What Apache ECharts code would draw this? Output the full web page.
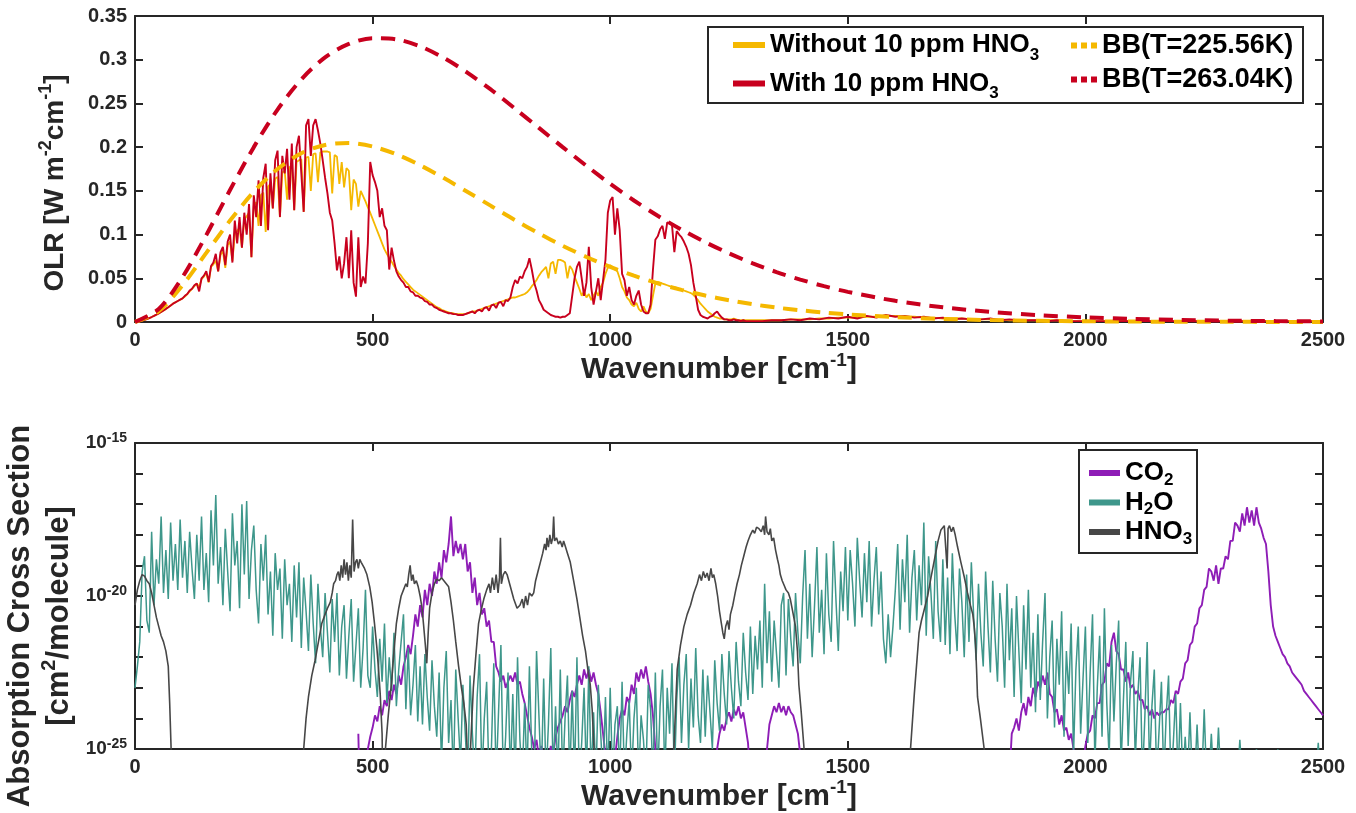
<!DOCTYPE html>
<html>
<head>
<meta charset="utf-8">
<script src="https://cdn.jsdelivr.net/npm/echarts@6/dist/echarts.min.js"></script>
<style>
html,body{margin:0;padding:0;background:#fff;}
#chart{width:1356px;height:813px;}
</style>
</head>
<body>
<div id="chart"></div>
<script>
// ---------- axis ticks ----------
const wavenumberTicks = [0, 500, 1000, 1500, 2000, 2500];

// ---------- OLR spectra (W m^-2 cm^-1) ----------
// fine part: 0 .. 1300 cm^-1 every 5 cm^-1
const fineStep = 5;
const olrWithoutFine = [
  0,0.0003,0.0008,0.0015,0.0024,0.0034,0.0045,0.0057,0.007,0.0084,0.0099,0.0115,0.0132,0.015,0.0169,0.0189,0.021,0.0225,0.024,0.0255,
  0.027,0.029,0.032,0.035,0.038,0.041,0.044,0.04,0.049,0.052,0.056,0.045,0.063,0.066,0.07,0.058,0.077,0.081,0.062,0.088,
  0.092,0.07,0.1,0.104,0.108,0.085,0.117,0.121,0.125,0.074,0.133,0.137,0.11,0.145,0.148,0.103,0.155,0.158,0.13,0.164,
  0.166,0.12,0.171,0.173,0.14,0.177,0.179,0.128,0.183,0.185,0.186,0.126,0.188,0.189,0.15,0.192,0.193,0.16,0.194,0.195,
  0.195,0.195,0.194,0.147,0.191,0.189,0.158,0.183,0.154,0.176,0.173,0.128,0.163,0.158,0.132,0.15,0.144,0.138,0.131,0.125,
  0.118,0.111,0.104,0.097,0.09,0.083,0.078,0.073,0.069,0.064,0.06,0.056,0.053,0.049,0.046,0.043,0.04,0.037,0.035,0.033,
  0.031,0.029,0.027,0.025,0.023,0.021,0.019,0.017,0.016,0.014,0.013,0.012,0.011,0.01,0.01,0.009,0.009,0.009,0.009,0.009,
  0.01,0.011,0.012,0.012,0.013,0.014,0.015,0.016,0.017,0.018,0.019,0.02,0.021,0.022,0.023,0.024,0.025,0.026,0.027,0.028,
  0.028,0.029,0.03,0.031,0.032,0.034,0.037,0.041,0.044,0.048,0.053,0.057,0.06,0.063,0.05,0.067,0.069,0.055,0.071,0.071,
  0.07,0.068,0.05,0.064,0.06,0.052,0.045,0.038,0.03,0.035,0.028,0.032,0.025,0.03,0.035,0.03,0.04,0.045,0.055,0.062,
  0.065,0.063,0.06,0.058,0.05,0.04,0.035,0.028,0.025,0.02,0.018,0.022,0.015,0.012,0.018,0.012,0.01,0.015,0.03,0.044,
  0.046,0.045,0.044,0.043,0.042,0.041,0.04,0.04,0.039,0.038,0.037,0.036,0.035,0.034,0.033,0.031,0.028,0.025,0.021,0.018,
  0.015,0.012,0.01,0.008,0.006,0.005,0.004,0.004,0.003,0.003,0.003,0.003,0.004,0.003,0.002,0.002,0.002,0.002,0.002,0.002,
  0.002
];
const olrWithFine = [
  0,0.0003,0.0008,0.0015,0.0024,0.0034,0.0045,0.0057,0.007,0.0084,0.0099,0.0115,0.0132,0.015,0.0169,0.0189,0.021,0.0225,0.024,0.0255,
  0.027,0.03,0.032,0.036,0.038,0.042,0.044,0.035,0.05,0.053,0.058,0.046,0.064,0.068,0.078,0.058,0.08,0.086,0.065,0.092,
  0.1,0.068,0.116,0.09,0.12,0.085,0.125,0.1,0.135,0.074,0.145,0.12,0.162,0.11,0.165,0.181,0.105,0.17,0.13,0.185,
  0.196,0.12,0.19,0.17,0.198,0.14,0.204,0.128,0.2,0.213,0.17,0.126,0.225,0.232,0.19,0.225,0.232,0.219,0.204,0.185,
  0.165,0.147,0.125,0.116,0.09,0.059,0.075,0.05,0.067,0.097,0.05,0.105,0.045,0.029,0.097,0.04,0.052,0.044,0.09,0.183,
  0.168,0.16,0.15,0.12,0.13,0.11,0.105,0.06,0.085,0.07,0.058,0.052,0.048,0.045,0.04,0.04,0.035,0.034,0.03,0.03,
  0.028,0.027,0.024,0.023,0.02,0.02,0.017,0.016,0.014,0.013,0.012,0.011,0.01,0.01,0.009,0.009,0.008,0.008,0.008,0.009,
  0.01,0.011,0.012,0.01,0.013,0.014,0.012,0.016,0.017,0.013,0.019,0.02,0.016,0.022,0.023,0.018,0.025,0.024,0.028,0.04,
  0.048,0.044,0.052,0.05,0.058,0.063,0.073,0.06,0.045,0.036,0.025,0.02,0.014,0.012,0.01,0.008,0.007,0.006,0.006,0.005,
  0.006,0.006,0.008,0.01,0.03,0.05,0.063,0.069,0.05,0.03,0.045,0.086,0.04,0.02,0.035,0.05,0.025,0.048,0.071,0.125,
  0.139,0.143,0.1,0.13,0.105,0.055,0.048,0.03,0.04,0.025,0.02,0.03,0.036,0.02,0.012,0.01,0.01,0.02,0.06,0.094,
  0.098,0.106,0.11,0.095,0.114,0.113,0.111,0.08,0.104,0.1,0.097,0.092,0.086,0.078,0.065,0.045,0.03,0.014,0.008,0.006,
  0.005,0.004,0.006,0.007,0.01,0.012,0.008,0.005,0.003,0.003,0.002,0.002,0.003,0.002,0.002,0.001,0.002,0.001,0.001,0.001,
  0.001
];
// tail: 1320 .. 2500 cm^-1 every 20 cm^-1
const tailStart = 1320, tailStep = 20;
const olrWithoutTail = [
  0.002,0.002,0.002,0.003,0.003,0.003,0.004,0.004,0.005,0.005,
  0.005,0.006,0.006,0.007,0.007,0.006,0.006,0.005,0.005,0.004,
  0.004,0.004,0.003,0.003,0.003,0.003,0.002,0.002,0.002,0.002,
  0.002,0.002,0.001,0.001,0.001,0.001,0.001,0.001,0.001,0.001,
  0.001,0.001,0.001,0.001,0.001,0.001,0.001,0.001,0.001,0.001,
  0.001,0.001,0.001,0.001,0.001,0.001,0.001,0.001,0.001,0.001
];
const olrWithTail = [
  0.001,0.002,0.002,0.003,0.002,0.004,0.003,0.005,0.004,0.006,
  0.004,0.007,0.005,0.008,0.006,0.007,0.005,0.006,0.004,0.005,
  0.003,0.004,0.003,0.003,0.004,0.002,0.003,0.002,0.002,0.002,
  0.001,0.002,0.001,0.001,0.001,0.001,0.001,0.001,0.001,0.001,
  0.001,0.001,0.001,0.001,0.001,0.001,0.001,0.001,0.001,0.001,
  0.001,0.001,0.001,0.001,0.001,0.001,0.001,0.001,0.001,0.001
];

// ---------- blackbody curves ----------
const bbWn = [0,50,100,150,200,250,300,350,400,450,500,550,600,650,700,750,800,850,900,950,
              1000,1050,1100,1150,1200,1250,1300,1350,1400,1450,1500,
              1600,1700,1800,1900,2000,2100,2200,2300,2400,2500];
const bb225 = [0,0.0125,0.042,0.079,0.116,0.149,0.175,0.193,0.2025,0.2047,0.2007,0.1918,0.1793,0.1646,0.1487,0.1325,0.1164,0.1013,0.0872,0.0744,
               0.063,0.053,0.0442,0.0367,0.0303,0.0249,0.0203,0.0165,0.0134,0.0108,0.0087,
               0.0056,0.0035,0.0022,0.00137,0.00084,0.00051,0.00031,0.00019,0.00011,0.00007];
const bb263 = [0,0.0149,0.0514,0.0994,0.151,0.2,0.243,0.2775,0.3027,0.318,0.3246,0.3233,0.3153,0.302,0.285,0.2654,0.2439,0.222,0.2,0.1786,
               0.158,0.139,0.1215,0.1056,0.0913,0.0785,0.0671,0.0571,0.0485,0.041,0.0345,
               0.0242,0.0168,0.0115,0.0079,0.0053,0.00355,0.00236,0.00157,0.00103,0.00067];

// ---------- absorption cross sections, log10(cm^2/molecule) ----------
const xsStep = 5;
const h2oStart = 0;
const h2oLog10 = [
  -23,-22.3,-21.5,-19.2,-18.7,-20.8,-21.2,-17.9,-20.3,-18.8,-19.6,-17.4,-19.9,-18.5,-20.1,-17.6,-19.5,-18.3,-19.8,-17.5,
  -19.4,-18.2,-19.9,-17.9,-19.1,-20.1,-18.0,-19.5,-17.4,-19.8,-18.6,-20.2,-17.2,-19.0,-16.7,-19.6,-18.4,-20.3,-17.8,-19.2,
  -20.5,-17.3,-19.0,-18.2,-20.4,-17.0,-19.3,-16.9,-20.1,-18.5,-17.7,-19.8,-20.9,-18.3,-19.5,-18.0,-20.6,-19.2,-21.3,-18.6,
  -19.8,-19.1,-21.4,-18.8,-20.3,-19.6,-21.5,-19.0,-20.7,-18.9,-21.7,-19.4,-20.5,-21.8,-19.3,-20.9,-22.2,-19.6,-21.0,-22.0,
  -19.9,-21.2,-22.5,-20.1,-21.5,-19.9,-22.6,-21.0,-20.3,-22.7,-21.3,-20.1,-22.8,-21.6,-20.4,-23.0,-21.7,-19.8,-22.6,-23.0,
  -21.0,-22.4,-23.3,-21.4,-22.8,-20.9,-23.5,-22.0,-23.1,-21.2,-23.6,-22.4,-21.5,-20.6,-23.7,-21.7,-23.9,-22.9,-21.6,-24.1,
  -22.3,-24.2,-21.9,-23.3,-24.4,-22.1,-23.6,-24.6,-22.5,-25.5,-23.0,-21.8,-24.8,-23.4,-26,-22.4,-24.0,-25.5,-22.9,-24.5,
  -26,-22.6,-24.5,-26,-23.3,-21.9,-26,-24.0,-22.8,-26,-25.0,-22.2,-26,-23.8,-21.6,-26,-24.6,-22.5,-26,-23.2,
  -26,-22.0,-24.7,-26,-23.5,-26,-22.3,-25.2,-26,-21.8,-23.9,-26,-22.7,-26,-24.2,-21.7,-26,-23.6,-26,-22.4,
  -26,-24.0,-22.6,-26,-23.1,-26,-22.0,-26,-24.8,-23.0,-26,-22.3,-26,-23.8,-26,-22.9,-24.5,-26,-23.3,-26,
  -23.0,-26,-24.2,-23.6,-26,-22.8,-26,-24.5,-23.4,-26,-24.0,-23.0,-26,-23.9,-24.7,-26,-22.9,-23.7,-26,-22.5,
  -26,-23.6,-22.4,-26,-23.0,-24.5,-22.2,-26,-23.4,-22.0,-24.8,-22.9,-21.9,-25.0,-22.7,-24.3,-21.7,-23.9,-24.8,-22.4,
  -24.6,-22.6,-23.8,-25.0,-22.1,-23.5,-24.4,-21.9,-23.2,-24.2,-21.8,-23.0,-24.0,-21.5,-22.8,-23.6,-21.2,-22.5,-23.4,-21.0,
  -23.2,-21.3,-22.4,-20.8,-23.0,-19.6,-22.2,-20.5,-22.8,-20.8,-21.9,-23.0,-20.3,-19.9,-22.6,-20.1,-21.4,-22.3,-19.9,-21.2,
  -22.2,-20.0,-18.5,-21.4,-19.6,-22.0,-20.3,-18.4,-21.2,-19.8,-21.9,-18.6,-20.6,-21.5,-18.2,-20.1,-21.8,-19.2,-20.5,-18.4,
  -20.8,-18.5,-19.6,-21.0,-18.1,-19.5,-20.7,-18.6,-20.2,-18.2,-21.0,-19.5,-18.4,-20.6,-19.2,-21.4,-22.2,-20.6,-22.0,-21.0,
  -19.8,-18.3,-21.1,-18.8,-20.2,-18.0,-21.2,-19.4,-18.5,-20.8,-19.0,-20.3,-17.6,-21.3,-18.7,-19.9,-21.4,-18.2,-20.5,-21.5,
  -18.8,-21.6,-19.4,-21.9,-18.6,-20.6,-21.8,-19.1,-20.2,-22.0,-19.3,-21.5,-18.9,-20.7,-22.1,-19.6,-21.2,-22.3,-19.2,-21.0,
  -22.5,-19.5,-21.4,-22.8,-19.9,-21.0,-23.0,-19.6,-22.1,-20.4,-23.3,-20.0,-21.8,-23.5,-20.3,-22.4,-19.8,-23.0,-21.2,-23.8,
  -20.6,-23.4,-21.5,-19.9,-24.0,-22.0,-20.8,-24.3,-21.4,-22.9,-20.5,-24.6,-21.8,-23.2,-20.9,-25.2,-22.4,-21.0,-24.5,-22.7,
  -21.0,-24.8,-22.5,-20.6,-25.5,-23.0,-21.3,-24.6,-20.4,-23.5,-25.3,-21.6,-24.1,-22.2,-20.8,-25.6,-23.4,-21.5,-24.9,-22.8,
  -21.8,-25.4,-23.3,-22.0,-26,-24.0,-21.5,-25.7,-23.6,-22.4,-26,-24.4,-22.8,-26,-23.9,-22.6,-26,-24.8,-23.2,-26,
  -23.5,-26,-24.6,-26,-23.8,-26,-26,-24.2,-26,-26,-23.7,-26,-26,-24.5,-26,-26,-24.3,-26,-26,-26,
  -26,-26,-26,-26,-26,-24.7,-26,-26,-26,-26,-26,-26,-25.0,-26,-26,-26,-26,-26,-26,-26,
  -26,-25.0,-26,-26,-26,-26,-26,-26,-26,-26,-26,-26,-26,-26,-26,-26,-26,-26,-24.8,-26,
  -26
];

// CO2 bands (start wavenumber, then every 5 cm^-1)
const co2BandAStart = 470;
const co2BandALog10 = [
  -24.5,-28,-28,-26,-25.0,-24.6,-24.3,-23.9,-24.1,-23.6,-23.9,-23.4,-23.6,-23.1,-23.4,-22.9,-23.2,-22.6,-22.9,-22.3,
  -22.0,-21.6,-21.9,-21.3,-20.6,-21.0,-20.3,-20.7,-19.8,-20.3,-19.6,-20.0,-19.2,-19.6,-18.9,-19.4,-18.5,-18.9,-18.3,-17.4,
  -18.7,-18.2,-18.6,-18.3,-18.8,-18.3,-19.2,-18.9,-19.9,-19.4,-20.3,-19.9,-20.6,-20.4,-21.0,-20.8,-21.5,-21.5,-22.3,-22.5,
  -22.8,-22.6,-23.0,-22.8,-22.6,-22.8,-22.5,-22.9,-22.8,-23.2,-23.5,-23.9,-24.3,-24.6,-25.0,-24.7,-25.3,-24.9,-25.5,-26,
  -25.5,-24.9,-25.2,-24.6,-24.3,-24.1,-23.9,-23.6,-23.8,-23.4,-23.1,-23.3,-22.9,-22.6,-22.9,-22.4,-22.7,-22.4,-22.8,-22.5,
  -22.9,-23.2,-23.8,-24.5,-25.2,-26,-25.5,-26,-25.3,-24.6,-24.0,-23.7,-23.9,-23.3,-23.5,-22.9,-23.2,-22.5,-22.8,-22.4,
  -22.7,-22.3,-22.8,-23.2,-23.9,-25.0,-26
];
const co2BandBStart = 1220;
const co2BandBLog10 = [
  -28,-25.0,-24.5,-24.2,-24.4,-24.0,-23.8,-24.1,-23.7,-23.9,-23.6,-24.0,-23.8,-24.3,-24.8,-26,-28,-28,-28,-28,
  -28,-26,-25.0,-24.2,-23.9,-23.6,-23.8,-23.5,-23.8,-23.6,-23.9,-23.6,-23.8,-23.9,-24.2,-24.5,-25.2,-26,-28
];
const co2BandCStart = 1835;
const co2BandCLog10 = [
  -28,-26,-24.5,-24.3,-24.0,-24.4,-23.8,-23.5,-23.9,-23.3,-23.6,-23.0,-23.3,-22.8,-23.0,-22.6,-22.9,-22.5,-23.2,-23.3,
  -23.8,-23.7,-24.2,-23.9,-24.4,-24.3,-24.7,-24.5,-25.0,-25.3,-25.8,-26,-25.5,-24.9,-24.5,-24.4,-23.9,-24.0,-23.5,-23.5,
  -22.9,-22.8,-22.2,-22.3,-21.5,-21.2,-21.8,-21.9,-22.4,-22.4,-22.8,-22.5,-23.0,-22.9,-23.2,-23.1,-23.4,-23.4,-23.7,-23.6,
  -23.9,-23.7,-24.0,-23.8,-23.9,-23.8,-23.8,-23.7,-23.7,-23.4,-23.5,-23.1,-23.2,-22.8,-22.7,-22.2,-22.1,-21.6,-21.5,-21.0,
  -20.9,-20.4,-20.3,-19.8,-19.7,-19.1,-19.2,-19.5,-19.0,-19.6,-19.1,-19.1,-18.7,-18.8,-18.2,-18.2,-17.6,-17.7,-17.9,-17.3,
  -17.7,-17.1,-17.6,-17.2,-17.7,-17.1,-17.6,-17.8,-18.1,-18.3,-19.2,-20.3,-21.0,-21.3,-21.5,-21.7,-21.9,-22.0,-22.2,-22.3,
  -22.5,-22.6,-22.7,-22.8,-22.9,-23.1,-23.2,-23.3,-23.4,-23.5,-23.6,-23.7,-23.8,-23.9
];

// HNO3 bands as [wavenumber, log10 cross section]
const hno3Log10 = [
  [0,-20.3],[5,-19.8],[10,-19.5],[15,-19.3],[20,-19.35],[25,-19.5],[30,-19.6],[35,-19.9],[40,-20.3],[45,-20.7],[50,-21.0],[55,-21.3],[60,-21.5],[65,-21.8],[70,-22.3],[73,-23.5],[76,-25],[80,-28],
  [350,-28],[355,-25.0],[360,-24.0],[365,-23.3],[372,-22.6],[379,-22.1],[386,-21.5],[393,-20.9],[400,-20.6],[405,-20.4],[411,-20.2],[415,-19.9],[418,-19.6],[422,-19.5],[425,-19.3],[428,-19.2],[431,-19.5],[434,-19.0],[437,-19.4],[440,-18.8],[443,-19.3],[446,-18.9],[449,-19.5],[452,-19.0],[455,-19.4],[458,-17.5],[461,-19.2],[464,-18.9],[467,-18.8],[470,-19.1],[473,-18.8],[476,-18.9],[479,-18.95],[483,-19.1],[488,-19.3],[494,-19.7],[499,-20.2],[504,-20.9],[509,-21.7],[513,-22.5],[516,-23.2],[520,-24.5],[523,-28],
  [527,-25],[533,-23.9],[540,-22.8],[545,-21.8],[550,-20.9],[555,-20.4],[560,-20.0],[565,-19.8],[570,-19.6],[573,-19.7],[576,-19.3],[579,-19.0],[582,-19.5],[585,-19.3],[588,-19.6],[592,-19.5],[596,-19.7],[600,-20.0],[604,-20.4],[607,-20.9],[611,-21.6],[614,-22.2],[617,-21.2],[620,-20.4],[625,-19.9],[630,-19.6],[635,-19.45],[640,-19.5],[645,-19.4],[650,-19.5],[655,-19.6],[660,-19.7],[665,-20.2],[670,-20.8],[675,-21.5],[681,-22.3],[687,-23.0],[692,-23.5],[697,-24.2],[700,-25.5],[703,-28],
  [706,-25],[712,-23.0],[718,-21.8],[723,-20.9],[728,-20.5],[734,-20.1],[740,-19.8],[745,-19.6],[748,-19.9],[752,-19.4],[756,-19.8],[760,-19.3],[764,-19.9],[767,-19.4],[769,-18.1],[771,-19.6],[775,-19.3],[779,-19.2],[783,-19.3],[790,-19.7],[797,-20.1],[804,-20.4],[810,-20.3],[815,-20.1],[818,-20.4],[822,-20.0],[826,-20.3],[830,-19.9],[835,-20.0],[839,-19.9],[843,-19.5],[848,-19.2],[853,-18.9],[858,-18.6],[862,-18.3],[865,-18.5],[867,-18.1],[870,-18.4],[873,-18.0],[876,-18.3],[879,-18.1],[881,-17.4],[883,-18.2],[887,-18.1],[891,-18.3],[895,-18.2],[899,-18.4],[902,-18.2],[906,-18.4],[910,-18.6],[916,-18.9],[923,-19.5],[930,-20.1],[936,-20.7],[942,-21.3],[948,-21.8],[953,-22.4],[958,-22.9],[962,-23.7],[966,-25.0],[970,-28],
  [1128,-28],[1134,-25],[1138,-23.5],[1141,-22.4],[1148,-21.6],[1155,-21.0],[1162,-20.6],[1169,-20.3],[1176,-19.9],[1183,-19.6],[1188,-19.3],[1192,-19.5],[1196,-19.2],[1200,-19.4],[1204,-19.25],[1208,-19.5],[1212,-19.1],[1215,-19.4],[1218,-19.3],[1222,-19.6],[1226,-20.0],[1230,-20.5],[1234,-20.9],[1237,-21.2],[1240,-21.4],[1243,-21.0],[1247,-20.8],[1250,-21.1],[1253,-20.6],[1258,-20.3],[1263,-19.9],[1267,-19.6],[1272,-19.3],[1276,-19.0],[1281,-18.7],[1286,-18.4],[1290,-18.2],[1295,-18.0],[1300,-17.85],[1304,-17.95],[1308,-17.75],[1313,-17.8],[1318,-17.9],[1322,-17.7],[1325,-18.0],[1327,-17.4],[1330,-17.9],[1334,-18.0],[1337,-17.8],[1340,-18.2],[1344,-18.1],[1348,-18.5],[1352,-18.8],[1355,-19.0],[1358,-19.3],[1362,-19.5],[1366,-19.65],[1370,-19.8],[1375,-19.9],[1379,-20.1],[1384,-20.5],[1390,-21.0],[1394,-21.8],[1397,-22.9],[1402,-23.8],[1408,-25.0],[1412,-28],
  [1625,-28],[1632,-25.0],[1640,-23.2],[1646,-22.0],[1650,-21.2],[1655,-20.8],[1660,-20.5],[1668,-20.0],[1675,-19.4],[1680,-19.0],[1685,-18.6],[1690,-18.2],[1696,-17.84],[1700,-17.9],[1703,-17.7],[1706,-17.68],[1709,-19.1],[1711,-17.8],[1714,-17.7],[1718,-17.9],[1722,-17.75],[1726,-18.0],[1731,-18.4],[1738,-18.9],[1745,-19.37],[1752,-19.9],[1758,-20.3],[1763,-20.6],[1766,-21.0],[1769,-21.6],[1771,-22.4],[1773,-23.3],[1779,-24.0],[1787,-25.0],[1792,-28]
];

// ---------- styling ----------
const FONT = '"Liberation Sans", Arial, Helvetica, sans-serif';
const INK = '#262626';
const YELLOW = '#F5B800';
const RED = '#C8001E';
const PURPLE = '#8E1DB6';
const TEAL = '#3E978B';
const GRAY = '#474747';

// chemical formulas: digits that follow a capital letter are subscripts
function chemRich(name) {
  const re = /([A-Z])(\d+)/g;
  let out = '', last = 0, m;
  while ((m = re.exec(name)) !== null) {
    out += '{t|' + name.slice(last, m.index + 1) + '}{sub|' + m[2] + '}';
    last = m.index + m[0].length;
  }
  if (last < name.length) out += '{t|' + name.slice(last) + '}';
  return out;
}

const axisStroke = { color: INK, width: 2 };
const tickLabel = { show: true, color: INK, fontSize: 20, fontWeight: 'bold', fontFamily: FONT, margin: 8,
  formatter: v => String(v) };

function nameStyle(size) {
  return {
    color: INK, fontFamily: FONT,
    rich: {
      t: { fontSize: size, fontWeight: 'bold', fontFamily: FONT, color: INK, lineHeight: size + 8 },
      sup: { fontSize: Math.round(size * 0.64), fontWeight: 'bold', fontFamily: FONT, color: INK,
             lineHeight: Math.round(size * 0.55), verticalAlign: 'top' }
    }
  };
}

function frameAxis(extra) {
  return Object.assign({
    type: 'value',
    axisLine: { show: true, onZero: false, lineStyle: axisStroke },
    axisTick: { show: true, inside: true, length: 8, lineStyle: axisStroke },
    axisLabel: { show: false },
    splitLine: { show: false }
  }, extra);
}

const xMin = wavenumberTicks[0], xMax = wavenumberTicks[wavenumberTicks.length - 1];
const xInterval = wavenumberTicks[1] - wavenumberTicks[0];

// ---------- series data ----------
const olrWithoutData = olrWithoutFine.map((v, i) => [i * fineStep, v])
  .concat(olrWithoutTail.map((v, i) => [tailStart + i * tailStep, v]));
const olrWithData = olrWithFine.map((v, i) => [i * fineStep, v])
  .concat(olrWithTail.map((v, i) => [tailStart + i * tailStep, v]));
const bb225Data = bbWn.map((w, i) => [w, bb225[i]]);
const bb263Data = bbWn.map((w, i) => [w, bb263[i]]);
const h2oData = h2oLog10.map((v, i) => [h2oStart + i * xsStep, v]);
const co2Data = co2BandALog10.map((v, i) => [co2BandAStart + i * xsStep, v])
  .concat(co2BandBLog10.map((v, i) => [co2BandBStart + i * xsStep, v]))
  .concat(co2BandCLog10.map((v, i) => [co2BandCStart + i * xsStep, v]));

const dotIcon = 'path://M0,0H6V6H0Z M10,0H16V6H10Z M20,0H26V6H20Z';

function legendText(size, lh) {
  return {
    fontFamily: FONT, color: '#000',
    rich: {
      t: { fontSize: size, fontWeight: 'bold', fontFamily: FONT, color: '#000', lineHeight: lh },
      sub: { fontSize: 17, fontWeight: 'bold', fontFamily: FONT, color: '#000', lineHeight: 14, verticalAlign: 'bottom' }
    }
  };
}

const chart = echarts.init(document.getElementById('chart'), null, { renderer: 'canvas' });
chart.setOption({
  backgroundColor: '#fff',
  animation: false,
  grid: [
    { left: 135, right: 33, top: 16, bottom: 491, containLabel: false, outerBoundsMode: 'none' },
    { left: 135, right: 33, top: 443, bottom: 64, containLabel: false, outerBoundsMode: 'none' }
  ],
  xAxis: [
    frameAxis({ gridIndex: 0, position: 'bottom', min: xMin, max: xMax, interval: xInterval,
      axisLabel: tickLabel,
      name: '{t|Wavenumber [cm}{sup|-1}{t|]}', nameLocation: 'middle', nameGap: 25,
      nameTextStyle: Object.assign(nameStyle(30), { padding: [0, 20, 0, 0] }) }),
    frameAxis({ gridIndex: 0, position: 'top', min: xMin, max: xMax, interval: xInterval }),
    frameAxis({ gridIndex: 1, position: 'bottom', min: xMin, max: xMax, interval: xInterval,
      axisLabel: tickLabel,
      name: '{t|Wavenumber [cm}{sup|-1}{t|]}', nameLocation: 'middle', nameGap: 25,
      nameTextStyle: Object.assign(nameStyle(30), { padding: [0, 20, 0, 0] }) }),
    frameAxis({ gridIndex: 1, position: 'top', min: xMin, max: xMax, interval: xInterval })
  ],
  yAxis: [
    frameAxis({ gridIndex: 0, position: 'left', min: 0, max: 0.35, interval: 0.05,
      axisLabel: tickLabel,
      name: '{t|OLR [W m}{sup|-2}{t|cm}{sup|-1}{t|]}', nameLocation: 'middle', nameGap: 62,
      nameTextStyle: Object.assign(nameStyle(28), { padding: [0, 0, 0, -28] }) }),
    frameAxis({ gridIndex: 0, position: 'right', min: 0, max: 0.35, interval: 0.05 }),
    frameAxis({ gridIndex: 1, position: 'left', min: -25, max: -15, interval: 1,
      axisLabel: Object.assign({}, tickLabel, {
        formatter: v => (Math.round(v) % 5 === 0 ? '{b|10}{e|' + Math.round(v) + '}' : ''),
        rich: {
          b: { fontSize: 19, fontWeight: 'bold', fontFamily: FONT, color: INK, lineHeight: 24 },
          e: { fontSize: 14, fontWeight: 'bold', fontFamily: FONT, color: INK, lineHeight: 12, verticalAlign: 'top' }
        }
      }),
      name: '{t|Absorption Cross Section}\n{t|[cm}{sup|2}{t|/molecule]}', nameLocation: 'middle', nameGap: 36,
      nameTextStyle: Object.assign(nameStyle(31), { padding: [0, 0, 0, -40] }) }),
    frameAxis({ gridIndex: 1, position: 'right', min: -25, max: -15, interval: 1 })
  ],
  legend: [
    { data: ['Without 10 ppm HNO3', 'With 10 ppm HNO3'], orient: 'vertical', left: 728, top: 27,
      icon: 'rect', itemWidth: 32, itemHeight: 6, itemGap: 7, itemStyle: { borderWidth: 0 },
      formatter: chemRich, textStyle: legendText(26, 37), selectedMode: false },
    { data: [{ name: 'BB(T=225.56K)', icon: dotIcon }, { name: 'BB(T=263.04K)', icon: dotIcon }],
      orient: 'vertical', left: 1066, top: 27,
      itemWidth: 26, itemHeight: 6, itemGap: 7, itemStyle: { borderWidth: 0 },
      formatter: chemRich, textStyle: legendText(27, 37), selectedMode: false },
    { data: ['CO2', 'H2O', 'HNO3'], orient: 'vertical', left: 1084, top: 455,
      icon: 'rect', itemWidth: 31, itemHeight: 6, itemGap: 1, itemStyle: { borderWidth: 0 },
      formatter: chemRich, textStyle: legendText(26, 31), selectedMode: false }
  ],
  graphic: [
    { type: 'rect', z: 3, shape: { x: 708, y: 27, width: 595, height: 76 },
      style: { fill: '#fff', stroke: INK, lineWidth: 2 } },
    { type: 'rect', z: 3, shape: { x: 1079, y: 450, width: 118, height: 103 },
      style: { fill: '#fff', stroke: INK, lineWidth: 2 } }
  ],
  series: [
    { name: 'Without 10 ppm HNO3', type: 'line', xAxisIndex: 0, yAxisIndex: 0, data: olrWithoutData,
      showSymbol: false, symbol: 'none', color: YELLOW, lineStyle: { color: YELLOW, width: 1.8 } },
    { name: 'With 10 ppm HNO3', type: 'line', xAxisIndex: 0, yAxisIndex: 0, data: olrWithData,
      showSymbol: false, symbol: 'none', color: RED, lineStyle: { color: RED, width: 1.9 } },
    { name: 'BB(T=225.56K)', type: 'line', xAxisIndex: 0, yAxisIndex: 0, data: bb225Data, smooth: 0.3,
      showSymbol: false, symbol: 'none', color: YELLOW, lineStyle: { color: YELLOW, width: 4, type: [14, 9] } },
    { name: 'BB(T=263.04K)', type: 'line', xAxisIndex: 0, yAxisIndex: 0, data: bb263Data, smooth: 0.3,
      showSymbol: false, symbol: 'none', color: RED, lineStyle: { color: RED, width: 4, type: [14, 9] } },
    { name: 'CO2', type: 'line', xAxisIndex: 2, yAxisIndex: 2, data: co2Data,
      showSymbol: false, symbol: 'none', color: PURPLE, lineStyle: { color: PURPLE, width: 1.9 } },
    { name: 'H2O', type: 'line', xAxisIndex: 2, yAxisIndex: 2, data: h2oData,
      showSymbol: false, symbol: 'none', color: TEAL, lineStyle: { color: TEAL, width: 1.5 } },
    { name: 'HNO3', type: 'line', xAxisIndex: 2, yAxisIndex: 2, data: hno3Log10,
      showSymbol: false, symbol: 'none', color: GRAY, lineStyle: { color: GRAY, width: 1.6 } }
  ]
});
</script>
</body>
</html>
